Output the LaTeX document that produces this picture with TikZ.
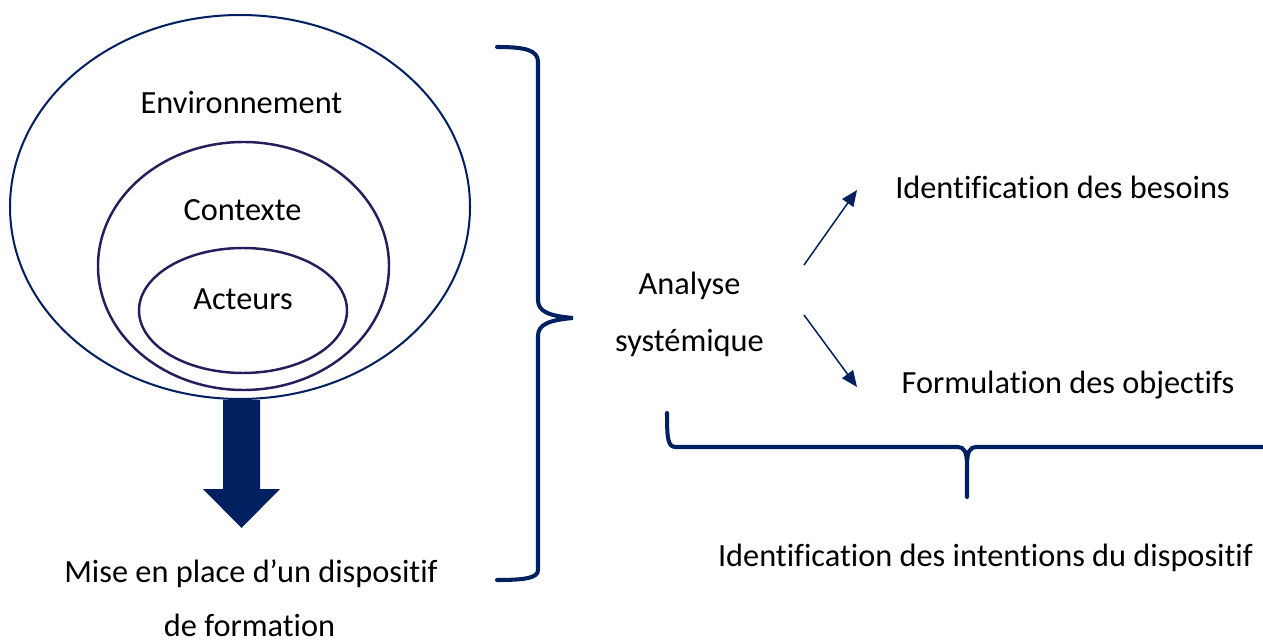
\documentclass[tikz,border=0pt]{standalone}
\usepackage{fontspec}
\setmainfont{Carlito}[Ligatures=NoCommon]
\usepackage{tikz}
\usetikzlibrary{arrows.meta,calc,positioning}
\usepackage{xcolor}
\definecolor{navy}{HTML}{002060}
\definecolor{inkblue}{HTML}{231F5C}

\begin{document}
\begin{tikzpicture}[scale=1,
  lbl/.style={font=\fontsize{18.4}{33}\selectfont, anchor=base, inner sep=0pt},
  bracepath/.style={draw=navy, line width=2.3pt, line cap=round},
  thinarrow/.style={draw=navy, line width=0.85pt, -{Triangle[length=3.2mm,width=2.7mm]}}]
  \useasboundingbox (0,0) rectangle (25.26,12.84);
  % the three nested systems
  \draw[navy, line width=1.15pt] (4.80,8.70) ellipse [x radius=4.60, y radius=3.84];
  \draw[inkblue, line width=1.4pt] (4.87,7.52) ellipse [x radius=2.91, y radius=2.48];
  \draw[inkblue, line width=1.4pt] (4.86,6.63) ellipse [x radius=2.08, y radius=1.25];
  \node[lbl] (env) at (4.83,10.56) {Environnement};
  \node[lbl] (ctx) at (4.85,8.42) {Contexte};
  \node[lbl] (act) at (4.86,6.64) {Acteurs};
  % big arrow down
  \fill[navy] (4.46,4.84) -- (5.20,4.84) -- (5.20,3.06) -- (5.60,3.06) -- (4.83,2.28) -- (4.06,3.06) -- (4.46,3.06) -- cycle;
  \node[lbl] (mise) at (5.02,1.20) {Mise en place d’un dispositif};
  \node[lbl] (form) at (4.99,0.11) {de formation};
  % vertical brace
  \draw[bracepath] (9.94,11.90) .. controls (10.50,11.90) and (10.76,11.84) .. (10.76,11.60)
    -- (10.76,6.84) .. controls (10.76,6.60) and (11.00,6.52) .. (11.46,6.48)
    .. controls (11.00,6.44) and (10.76,6.36) .. (10.76,6.12)
    -- (10.76,1.44) .. controls (10.76,1.28) and (10.50,1.24) .. (9.94,1.24);
  \node[lbl] (ana) at (13.79,6.94) {Analyse};
  \node[lbl] (sys) at (13.79,5.80) {systémique};
  % the two outcomes
  \coordinate (up1) at (16.08,7.54); \coordinate (up2) at (17.14,9.04);
  \coordinate (dn1) at (16.08,6.54); \coordinate (dn2) at (17.14,5.10);
  \draw[thinarrow] (up1) -- (up2);
  \draw[thinarrow] (dn1) -- (dn2);
  \node[lbl] (bes) at (21.25,8.86) {Identification des besoins};
  \node[lbl] (obj) at (21.36,4.98) {Formulation des objectifs};
  % horizontal brace
  \draw[bracepath] (13.34,4.58) .. controls (13.34,4.04) and (13.36,3.90) .. (13.52,3.90)
    -- (19.16,3.90) .. controls (19.28,3.90) and (19.34,3.80) .. (19.34,3.54) -- (19.34,2.90);
  \draw[bracepath] (19.34,3.54) .. controls (19.34,3.80) and (19.40,3.90) .. (19.52,3.90) -- (25.26,3.90);
  \node[lbl] (int) at (19.71,1.52) {Identification des intentions du dispositif};
\end{tikzpicture}
\end{document}
